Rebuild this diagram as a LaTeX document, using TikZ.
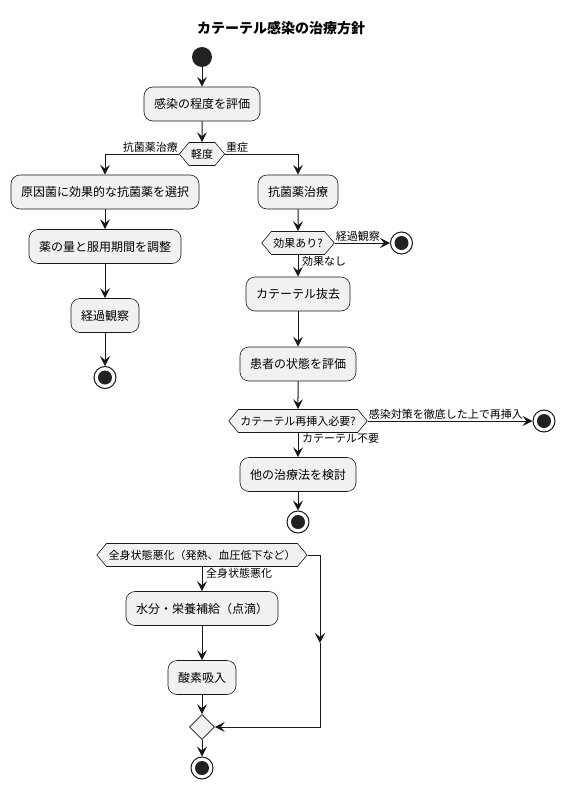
\documentclass[tikz,border=0pt]{standalone}
\usepackage{fontspec}
\setmainfont{Noto Sans CJK JP}
\usetikzlibrary{shapes.symbols,shapes.geometric,arrows.meta}
\definecolor{boxfill}{HTML}{F1F1F1}
\definecolor{edgec}{HTML}{181818}
\definecolor{dotc}{HTML}{222222}
\begin{document}
\begin{tikzpicture}[x=1pt,y=-1pt,
  act/.style={draw=edgec, fill=boxfill, rounded corners=9pt, minimum height=34pt, inner xsep=10pt, inner ysep=0pt, font=\fontsize{12}{14}\selectfont, line width=0.6pt},
  dec/.style={signal, signal to=east and west, signal pointer angle=100, draw=edgec, fill=boxfill, minimum height=23pt, inner xsep=2pt, inner ysep=0pt, font=\fontsize{11}{13}\selectfont, line width=0.6pt},
  lbl/.style={font=\fontsize{11}{13}\selectfont, inner sep=1pt},
  flow/.style={draw=edgec, line width=1pt, -{Stealth[length=10pt,width=10pt,inset=4pt]}},
  startn/.style={circle, fill=dotc, minimum size=20pt, inner sep=0pt},
  endn/.style={circle, draw=edgec, fill=white, line width=1pt, minimum size=22pt, inner sep=0pt, path picture={\fill[dotc] (path picture bounding box.center) circle (7pt);}},
  merge/.style={diamond, draw=edgec, fill=boxfill, minimum size=25pt, inner sep=0pt, line width=0.6pt}
]
\useasboundingbox[fill=white] (0,0) rectangle (565,790);

\node[font=\bfseries\fontsize{14}{16}\selectfont] (title) at (281,28) {カテーテル感染の治療方針};
\node[startn] (s) at (202,57) {};
\node[act] (b1) at (202,104) {感染の程度を評価};
\node[dec] (d1) at (202,154) {軽度};
\node[act] (l1) at (105,192) {原因菌に効果的な抗菌薬を選択};
\node[act] (l2) at (105,246.5) {薬の量と服用期間を調整};
\node[act] (l3) at (105,315.5) {経過観察};
\node[endn] (e1) at (105,377.5) {};
\node[act] (r1) at (298,192) {抗菌薬治療};
\node[dec] (d2) at (298,243) {効果あり?};
\node[endn] (e2) at (401.5,243) {};
\node[act] (r2) at (298,294) {カテーテル抜去};
\node[act] (r3) at (298,364) {患者の状態を評価};
\node[dec] (d3) at (298,421) {カテーテル再挿入必要?};
\node[endn] (e3) at (544,421) {};
\node[act] (r4) at (298,474.5) {他の治療法を検討};
\node[endn] (e4) at (298,522) {};
\node[dec] (d4) at (202,555) {全身状態悪化（発熱、血圧低下など）};
\node[act] (m1) at (202,608.5) {水分・栄養補給（点滴）};
\node[act] (m2) at (202,677.5) {酸素吸入};
\node[merge] (mg) at (202,727) {};
\node[endn] (e5) at (202,768) {};
\coordinate (c1) at (320,643);

\draw[flow] (s) -- (b1);
\draw[flow] (b1) -- (d1);
\draw[flow] (d1.west) -| (l1.north);
\node[lbl, anchor=south east] (t1) at (d1.west) {抗菌薬治療};
\draw[flow] (d1.east) -| (r1.north);
\node[lbl, anchor=south west] (t2) at (d1.east) {重症};
\draw[flow] (l1) -- (l2);
\draw[flow] (l2) -- (l3);
\draw[flow] (l3) -- (e1);
\draw[flow] (r1) -- (d2);
\draw[flow] (d2.east) -- (e2);
\node[lbl, anchor=south west] (t3) at (d2.east) {経過観察};
\draw[flow] (d2.south) -- (r2.north);
\node[lbl, anchor=north west, xshift=3pt] (t4) at (d2.south) {効果なし};
\draw[flow] (r2) -- (r3);
\draw[flow] (r3) -- (d3);
\draw[flow] (d3.east) -- (e3);
\node[lbl, anchor=south west] (t5) at (d3.east) {感染対策を徹底した上で再挿入};
\draw[flow] (d3.south) -- (r4.north);
\node[lbl, anchor=north west, xshift=3pt] (t6) at (d3.south) {カテーテル不要};
\draw[flow] (r4) -- (e4);
\draw[flow] (d4.south) -- (m1.north);
\node[lbl, anchor=north west, xshift=3pt] (t7) at (d4.south) {全身状態悪化};
\draw[flow] (m1) -- (m2);
\draw[flow] (m2) -- (mg);
\draw[flow] (d4.east) -| (c1);
\draw[flow] (c1) |- (mg.east);
\draw[flow] (mg) -- (e5);
\end{tikzpicture}
\end{document}
